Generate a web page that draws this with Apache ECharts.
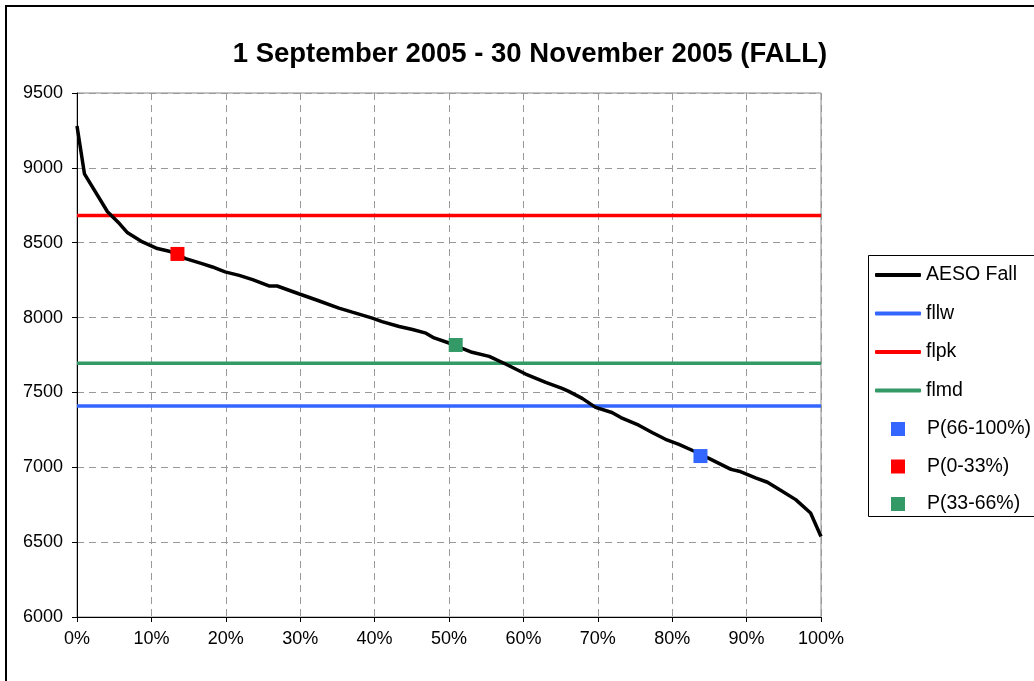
<!DOCTYPE html>
<html>
<head>
<meta charset="utf-8">
<script src="https://cdn.jsdelivr.net/npm/echarts@6/dist/echarts.min.js"></script>
<style>
  html, body { margin: 0; padding: 0; background: #fff; }
  #chart { width: 1034px; height: 681px; }
</style>
</head>
<body>
<div id="chart"></div>
<script>
// duration curve: percent of time vs load (MW)
const curvePct = [0, 1.0, 4.1, 5.7, 6.8, 8.8, 10.8, 12.4, 14.6, 16.8, 18.2, 19.9, 21.8, 23.6, 25.8, 26.9,
  29.8, 32.1, 35.2, 37.0, 39.7, 41.0, 43.3, 45.1, 46.9, 48.0, 50.0, 53.1, 55.4, 57.6, 60.3, 63.0,
  65.2, 66.1, 67.9, 69.7, 71.9, 73.1, 75.5, 77.3, 79.1, 80.9, 83.2, 85.4, 87.9, 89.0, 91.2, 92.8,
  94.4, 96.6, 98.6, 100];
const curveLoad = [9280, 8960, 8707, 8628, 8566, 8505, 8461, 8443, 8394, 8360, 8338, 8305, 8282, 8253, 8211, 8211,
  8159, 8119, 8063, 8036, 7996, 7973, 7940, 7920, 7896, 7864, 7830, 7768, 7741, 7690, 7623, 7567,
  7527, 7507, 7460, 7400, 7366, 7332, 7281, 7232, 7187, 7153, 7102, 7048, 6986, 6974, 6930, 6900,
  6851, 6784, 6695, 6538];

const levelNames = ["fllw", "flpk", "flmd"];
const levelValues = [7410, 8682, 7695];
const levelColors = ["#3366ff", "#ff0000", "#339966"];

const pointNames = ["P(66-100%)", "P(0-33%)", "P(33-66%)"];
const pointPct = [83.8, 13.5, 50.9];
const pointLoad = [7075, 8425, 7817];

const xTicks = { min: 0, max: 100, step: 10 };
const yTicks = { min: 6000, max: 9500, step: 500 };

const font = "Liberation Sans, Arial, sans-serif";
const chart = echarts.init(document.getElementById("chart"));

const series = [];
series.push({
  name: "AESO Fall",
  type: "line",
  symbol: "none",
  color: "#000",
  lineStyle: { color: "#000", width: 3.5 },
  data: curvePct.map((p, i) => [p, curveLoad[i]]),
  z: 5,
});
levelNames.forEach((n, i) => {
  series.push({
    name: n,
    type: "line",
    symbol: "none",
    color: levelColors[i],
    lineStyle: { color: levelColors[i], width: 3.5 },
    data: [[xTicks.min, levelValues[i]], [xTicks.max, levelValues[i]]],
    z: 3,
  });
});
pointNames.forEach((n, i) => {
  series.push({
    name: n,
    type: "scatter",
    symbol: "rect",
    symbolSize: 14,
    color: levelColors[i],
    itemStyle: { color: levelColors[i], opacity: 1 },
    data: [[pointPct[i], pointLoad[i]]],
    z: 6,
  });
});

const option = {
  animation: false,
  backgroundColor: "#fff",
  title: {
    text: "1 September 2005 - 30 November 2005 (FALL)",
    left: 525,
    textAlign: "center",
    top: 35,
    textStyle: { fontFamily: font, fontSize: 27.5, fontWeight: "bold", color: "#000" },
  },
  grid: {
    left: 77, right: 213, top: 93, bottom: 64,
    show: true, borderColor: "#888", borderWidth: 1,
  },
  xAxis: {
    type: "value",
    min: xTicks.min, max: xTicks.max, interval: xTicks.step,
    axisLine: { lineStyle: { color: "#000", width: 1 } },
    axisTick: { show: true, inside: false, length: 5, lineStyle: { color: "#000" } },
    axisLabel: { formatter: "{value}%", color: "#000", fontFamily: font, fontSize: 18, margin: 13 },
    splitLine: { show: true, lineStyle: { color: "#999", type: [7, 5], width: 1 } },
  },
  yAxis: {
    type: "value",
    min: yTicks.min, max: yTicks.max, interval: yTicks.step,
    axisLine: { show: true, lineStyle: { color: "#000", width: 1 } },
    axisTick: { show: true, inside: false, length: 5, lineStyle: { color: "#000" } },
    axisLabel: { formatter: v => String(v), color: "#000", fontFamily: font, fontSize: 18, margin: 14 },
    splitLine: { show: true, lineStyle: { color: "#999", type: [7, 5], width: 1 } },
  },
  legend: [
    {
      orient: "vertical",
      left: 870, top: 260,
      itemWidth: 46, itemHeight: 4,
      itemGap: 18.5,
      data: ["AESO Fall"].concat(levelNames).map(n => ({ name: n, icon: "roundRect" })),
      textStyle: { fontFamily: font, fontSize: 19.5, color: "#000" },
      selectedMode: false,
    },
    {
      orient: "vertical",
      left: 886, top: 414,
      itemWidth: 14, itemHeight: 14,
      itemGap: 17.5,
      data: pointNames.map(n => ({ name: n, icon: "rect" })),
      textStyle: { fontFamily: font, fontSize: 19.5, color: "#000", padding: [0, 0, 0, 17] },
      selectedMode: false,
    },
  ],
  graphic: [
    {
      type: "rect",
      shape: { x: 868.5, y: 255.5, width: 170, height: 261 },
      style: { fill: "none", stroke: "#000", lineWidth: 1 },
      silent: true,
    },
    {
      type: "rect",
      shape: { x: 6, y: 6, width: 1100, height: 1000 },
      style: { fill: "none", stroke: "#000", lineWidth: 2 },
      silent: true,
    },
  ],
  series: series,
};
chart.setOption(option);
</script>
</body>
</html>
